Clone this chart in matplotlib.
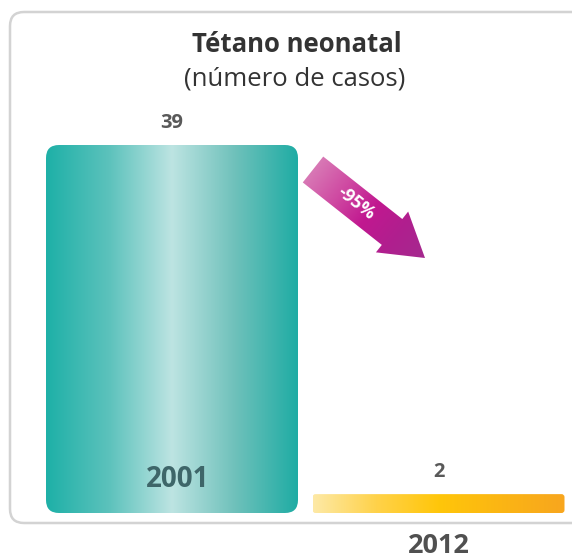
import numpy as np
import matplotlib.pyplot as plt
from matplotlib.colors import LinearSegmentedColormap
from matplotlib.patches import FancyBboxPatch, FancyArrow

# Data
years = ['2001', '2012']
cases = [39, 2]
change_label = '-95%'
title = 'Tétano neonatal'
subtitle = '(número de casos)'

plt.rcParams['font.family'] = ['Open Sans', 'DejaVu Sans']

W, H = 572, 558
fig = plt.figure(figsize=(W / 100, H / 100), dpi=100)

# background overlay in pixel coordinates (frame + arrow)
bg = fig.add_axes([0, 0, 1, 1])
bg.set_xlim(0, W)
bg.set_ylim(H, 0)
bg.axis('off')

frame = FancyBboxPatch((10, 12), 600, 511, boxstyle='round,pad=0,rounding_size=14',
                       fc='white', ec='#d3d3d3', lw=1.8)
bg.add_patch(frame)

# main axes
ax_left, ax_right = 10, 572
ax_bottom, px_per_unit = 513, 368 / 39
ymax = 45
ax_top = ax_bottom - ymax * px_per_unit
ax = fig.add_axes([ax_left / W, (H - ax_bottom) / H,
                   (ax_right - ax_left) / W, (ax_bottom - ax_top) / H])
ax.patch.set_alpha(0)
spacing = 266.5
ax.set_xlim((ax_left - 172) / spacing, (ax_right - 172) / spacing)
ax.set_ylim(0, ymax)
ax.axis('off')

x = np.arange(len(years))
bars = ax.bar(x, cases, width=252 / spacing, color='none')

teal = LinearSegmentedColormap.from_list('teal', ['#1eb0a7', '#5cc2bc', '#bde4e2', '#6fc1bb', '#1faca4'])
gold = LinearSegmentedColormap.from_list('gold', ['#fde9a6', '#ffd24a', '#ffc60a', '#fbb514', '#f8a61e'])
grad = np.linspace(0, 1, 256).reshape(1, -1)

# aspect for rounded corners: y-units per x-unit in pixels
aspect = (1 / px_per_unit) / (1 / spacing)
for bar, cmap, r in zip(bars, [teal, gold], [13, 3]):
    x0, y0, w, h = bar.get_x(), bar.get_y(), bar.get_width(), bar.get_height()
    rad = r / spacing
    patch = FancyBboxPatch((x0, y0), w, h, boxstyle=f'round,pad=0,rounding_size={rad}',
                           mutation_aspect=aspect, fc='none', ec='none')
    ax.add_patch(patch)
    im = ax.imshow(grad, cmap=cmap, extent=(x0, x0 + w, y0, y0 + h), aspect='auto',
                   interpolation='bilinear', zorder=2)
    im.set_clip_path(patch)

ax.set_xlim((ax_left - 172) / spacing, (ax_right - 172) / spacing)
ax.set_ylim(0, ymax)

# value labels
ax.text(x[0], cases[0] + 1.3, str(cases[0]), ha='center', va='bottom',
        fontsize=14.5, fontweight='bold', color='#595959')
ax.text(x[1], cases[1] + 1.3, str(cases[1]), ha='center', va='bottom',
        fontsize=14.5, fontweight='bold', color='#595959')
# year labels
ax.text(x[0] + 0.022, 3.6, years[0], ha='center', va='center', fontsize=20,
        fontweight='bold', color='#3e6669', zorder=3)
ax.text(x[1], -3.5, years[1], ha='center', va='center', fontsize=19.5,
        fontweight='bold', color='#505050', clip_on=False)

# titles
bg.text(297, 44, title, ha='center', va='center', fontsize=18.5, fontweight='bold', color='#333333')
bg.text(295, 79, subtitle, ha='center', va='center', fontsize=18.5, color='#333333')

# arrow with gradient
tail = np.array([313, 169.5])
tip = np.array([425, 258])
d = tip - tail
arrow = FancyArrow(tail[0], tail[1], d[0], d[1], width=33, head_width=52, head_length=42,
                   length_includes_head=True, fc='none', ec='none')
bg.add_patch(arrow)
mag = LinearSegmentedColormap.from_list('mag', ['#d878b5', '#cf4aa2', '#c11890', '#b01f8e', '#a52a8f'])
gx, gy = np.meshgrid(np.linspace(295, 435, 200), np.linspace(150, 265, 200))
u = d / np.hypot(*d)
proj = ((gx - tail[0]) * u[0] + (gy - tail[1]) * u[1]) / np.hypot(*d)
aim = bg.imshow(proj, cmap=mag, extent=(295, 435, 265, 150), aspect='auto',
                interpolation='bilinear', vmin=0, vmax=1, zorder=3)
aim.set_clip_path(arrow)
bg.set_xlim(0, W)
bg.set_ylim(H, 0)
ang = np.degrees(np.arctan2(d[1], d[0]))
bg.text(356, 203, change_label, ha='center', va='center', rotation=-ang,
        fontsize=13, fontweight='bold', color='white', zorder=4)

fig.savefig('out.png', dpi=100)
